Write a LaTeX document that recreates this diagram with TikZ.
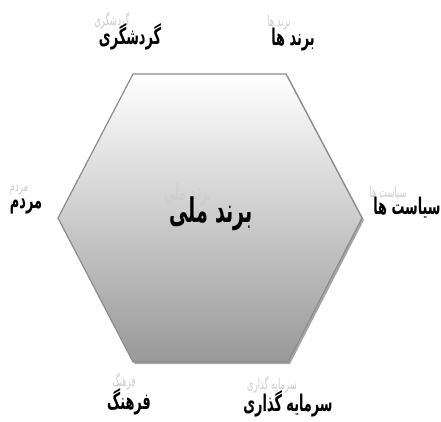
\documentclass[tikz,border=0pt]{standalone}
\usepackage{fontspec}
\usetikzlibrary{shadows}
\TeXXeTstate=1
\newfontfamily\arabiccond[Script=Arabic,FakeStretch=0.56]{DejaVu Sans}
\begin{document}
\begin{tikzpicture}[x=1pt,y=-1pt,
  lbl/.style={font=\arabiccond\bfseries\fontsize{23}{26}\selectfont, inner sep=0pt, text=black},
  ghost/.style={font=\arabiccond\fontsize{15}{17}\selectfont, inner sep=0pt, text=black!20},
  hexa/.style={draw=black!45, line width=1.2pt, top color=white, bottom color=black!40,
     drop shadow={shadow xshift=2pt, shadow yshift=-2pt, opacity=0.35, fill=black}}]
\useasboundingbox (0,0) rectangle (441,421);
\path[hexa] (133,74) -- (286,74) -- (362,218) -- (288,362) -- (133,362) -- (58,218) -- cycle;
% ghost texts
\node[ghost] (g1) at (112,21) {\beginR گردشگری\endR};
\node[ghost] (g2) at (279,23) {\beginR برند ها\endR};
\node[ghost] (g3) at (388,193) {\beginR سیاست ها\endR};
\node[ghost] (g4) at (19,190) {\beginR مردم\endR};
\node[ghost, font=\arabiccond\fontsize{23}{26}\selectfont] (g5) at (188,195) {\beginR برند ملی\endR};
\node[ghost] (g6) at (124,382) {\beginR فرهنگ\endR};
\node[ghost] (g7) at (272,385) {\beginR سرمایه گذاری\endR};
% main labels
\node[lbl] (t1) at (130,37) {\beginR گردشگری\endR};
\node[lbl] (t2) at (293,40) {\beginR برند ها\endR};
\node[lbl] (t3) at (407,208) {\beginR سیاست ها\endR};
\node[lbl] (t4) at (26,207) {\beginR مردم\endR};
\node[lbl, font=\arabiccond\bfseries\fontsize{34}{38}\selectfont] (t5) at (211,214) {\beginR برند ملی\endR};
\node[lbl] (t6) at (129,402) {\beginR فرهنگ\endR};
\node[lbl] (t7) at (288,404) {\beginR سرمایه گذاری\endR};
\end{tikzpicture}
\end{document}
